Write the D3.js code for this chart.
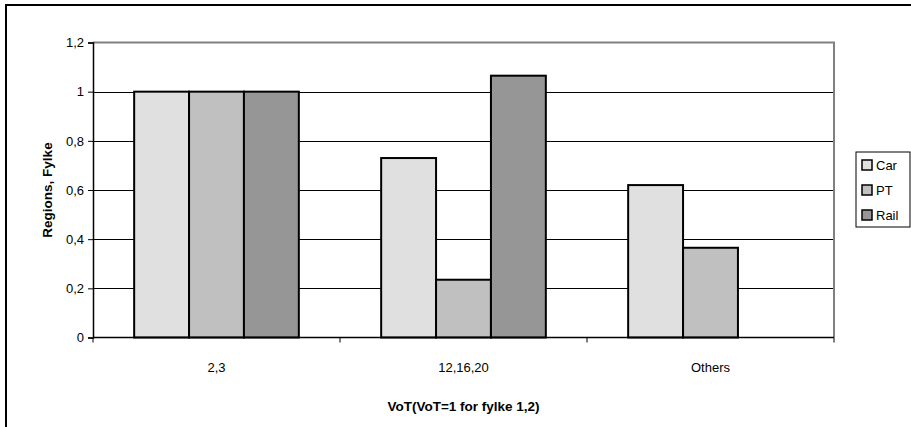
<!DOCTYPE html>
<html>
<head>
<meta charset="utf-8">
<script src="https://cdnjs.cloudflare.com/ajax/libs/d3/7.8.5/d3.min.js"></script>
<style>
  html, body { margin: 0; padding: 0; background: #fff; }
  svg { display: block; font-family: "Liberation Sans", Arial, sans-serif; }
</style>
</head>
<body>
<svg id="chart" width="911" height="427"></svg>
<script>
// Relative value of time by region group and mode
const categories = ["2,3", "12,16,20", "Others"];
const seriesNames = ["Car", "PT", "Rail"];
const carValues = [1.0, 0.73, 0.62];
const ptValues = [1.0, 0.235, 0.365];
const railValues = [1.0, 1.065, 0];
const yTicks = [0, 0.2, 0.4, 0.6, 0.8, 1, 1.2];
const yTickLabels = ["0", "0,2", "0,4", "0,6", "0,8", "1", "1,2"];
const colors = ["#e0e0e0", "#c0c0c0", "#969696"];

const seriesValues = [carValues, ptValues, railValues];
const rows = categories.map((c, i) => ({
  cat: c,
  vals: seriesNames.map((s, j) => ({ key: s, value: seriesValues[j][i], color: colors[j] }))
}));

const svg = d3.select("#chart");
const FONT = 13;

// outer chart frame (left and top edges show)
svg.append("rect")
  .attr("x", 6).attr("y", 5).attr("width", 940).attr("height", 460)
  .attr("fill", "none").attr("stroke", "#000").attr("stroke-width", 2);

const plot = { left: 93, top: 42.5, right: 834, bottom: 337.5 };

const x0 = d3.scaleBand().domain(categories).range([plot.left, plot.right]).paddingInner(0).paddingOuter(0);
// bars of a group fill the middle two thirds of each category
const groupInset = x0.bandwidth() / 6;
const x1 = d3.scaleBand().domain(seriesNames)
  .range([groupInset, x0.bandwidth() - groupInset]).paddingInner(0).paddingOuter(0);

const y = d3.scaleLinear().domain([0, 1.2]).range([plot.bottom, plot.top]);

// gridlines
svg.append("g")
  .selectAll("line")
  .data(yTicks.filter(t => t > 0 && t < 1.2))
  .join("line")
  .attr("x1", plot.left).attr("x2", plot.right)
  .attr("y1", d => Math.round(y(d)) + 0.5).attr("y2", d => Math.round(y(d)) + 0.5)
  .attr("stroke", "#000").attr("stroke-width", 1);

// plot area border top / right
svg.append("path")
  .attr("d", `M${plot.left},${plot.top}H${plot.right}V${plot.bottom}`)
  .attr("fill", "none").attr("stroke", "#808080").attr("stroke-width", 2);

// bars
svg.append("g")
  .selectAll("g")
  .data(rows)
  .join("g")
  .attr("transform", d => `translate(${x0(d.cat)},0)`)
  .selectAll("rect")
  .data(d => d.vals.filter(v => v.value > 0))
  .join("rect")
  .attr("x", d => x1(d.key))
  .attr("width", x1.bandwidth())
  .attr("y", d => y(d.value))
  .attr("height", d => y(0) - y(d.value))
  .attr("fill", d => d.color)
  .attr("stroke", "#000")
  .attr("stroke-width", 2);

// y axis
const yAxis = d3.axisLeft(y)
  .tickValues(yTicks)
  .tickFormat((d, i) => yTickLabels[i])
  .tickSize(5)
  .tickPadding(4);
const gy = svg.append("g").attr("transform", `translate(${plot.left},0)`).call(yAxis);
gy.select(".domain").attr("stroke", "#000").attr("stroke-width", 1.5);
gy.selectAll(".tick line").attr("stroke", "#000");
gy.selectAll(".tick text").attr("font-size", FONT).attr("fill", "#000")
  .attr("font-family", "Liberation Sans, Arial, sans-serif");

// x axis
const gx = svg.append("g").attr("transform", `translate(0,${plot.bottom})`);
gx.append("line").attr("x1", plot.left).attr("x2", plot.right)
  .attr("y1", 0).attr("y2", 0).attr("stroke", "#000").attr("stroke-width", 1.5);
const boundaries = categories.map(c => x0(c)).concat([plot.right]);
gx.selectAll("line.tk").data(boundaries).join("line").attr("class", "tk")
  .attr("x1", d => d).attr("x2", d => d).attr("y1", 0).attr("y2", 5)
  .attr("stroke", "#000");
gx.selectAll("text").data(categories).join("text")
  .attr("x", d => x0(d) + x0.bandwidth() / 2)
  .attr("y", 34)
  .attr("text-anchor", "middle")
  .attr("font-size", FONT)
  .text(d => d);

// axis titles
svg.append("text")
  .attr("x", x0("12,16,20") + x0.bandwidth() / 2)
  .attr("y", 411)
  .attr("text-anchor", "middle")
  .attr("font-size", 13.5).attr("font-weight", "bold")
  .text("VoT(VoT=1 for fylke 1,2)");

svg.append("text")
  .attr("transform", `translate(52,${(plot.top + plot.bottom) / 2}) rotate(-90)`)
  .attr("text-anchor", "middle")
  .attr("font-size", 13.5).attr("font-weight", "bold")
  .text("Regions, Fylke");

// legend
const legend = svg.append("g").attr("transform", "translate(856,152)");
legend.append("rect").attr("x", 0).attr("y", 0).attr("width", 54).attr("height", 75)
  .attr("fill", "#fff").attr("stroke", "#000").attr("stroke-width", 1);
const items = legend.selectAll("g.item").data(seriesNames).join("g").attr("class", "item")
  .attr("transform", (d, i) => `translate(6,${13 + i * 25})`);
items.append("rect").attr("x", 0).attr("y", -5).attr("width", 10).attr("height", 10)
  .attr("fill", (d, i) => colors[i]).attr("stroke", "#000").attr("stroke-width", 1.5);
items.append("text").attr("x", 14).attr("y", 5).attr("font-size", FONT).text(d => d);
</script>
</body>
</html>
